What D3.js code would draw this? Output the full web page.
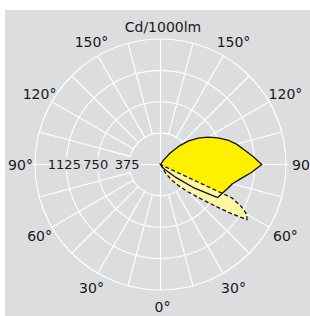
<!DOCTYPE html>
<html>
<head>
<meta charset="utf-8">
<script src="https://cdn.jsdelivr.net/npm/d3@7"></script>
<style>
  body { margin: 0; background: #fff; }
  text { font-family: "DejaVu Sans", sans-serif; fill: #1a1a1a; }
</style>
</head>
<body>
<svg id="chart"></svg>
<script>
// gamma = angle from nadir (0 = straight down, 90 = horizontal, 180 = up)
const gammaSolid = [30, 35, 40, 45, 50, 55, 60, 65, 70, 75, 80, 85, 90, 95, 100, 105, 110, 115, 120, 125, 130, 135, 140, 145, 150];
const cdSolid    = [0, 40, 75, 115, 245, 480, 790, 815, 850, 890, 975, 1090, 1210, 1110, 1015, 940, 855, 755, 655, 550, 440, 310, 175, 60, 0];

const gammaDashed = [25, 30, 35, 40, 45, 50, 52.5, 55, 57.5, 60, 62.5, 65, 67.5];
const cdDashed    = [0, 110, 215, 320, 460, 650, 800, 1010, 1225, 1190, 1090, 940, 0];

const ringValues = [375, 750, 1125, 1500];
const ringLabels = [375, 750, 1125];
const angleLabels = [0, 30, 60, 90, 120, 150];
const unitLabel = "Cd/1000lm";

const width = 310, height = 316;
const cx = 160.5, cy = 164.5;
const bg = "#dcdddf";

const svg = d3.select("#chart")
    .attr("width", width)
    .attr("height", height);

// grey panel
svg.append("rect")
    .attr("x", 5).attr("y", 10)
    .attr("width", width - 5).attr("height", height - 10)
    .attr("fill", bg);

const r = d3.scaleLinear().domain([0, 1500]).range([0, 125.5]);

// d3 radial angle: 0 at top, clockwise. gamma 0 is at the bottom.
const rad = g => (180 - g) * Math.PI / 180;

const g = svg.append("g").attr("transform", "translate(" + cx + "," + cy + ")");

// grid rings
g.selectAll("circle.ring")
    .data(ringValues)
    .enter().append("circle")
    .attr("class", "ring")
    .attr("r", d => r(d))
    .attr("fill", "none")
    .attr("stroke", "#fff")
    .attr("stroke-width", 1.2);

// spokes every 15 degrees; the main axes go through the centre
g.selectAll("line.spoke")
    .data(d3.range(0, 360, 15))
    .enter().append("line")
    .attr("class", "spoke")
    .each(function (a) {
        const t = a * Math.PI / 180;
        const r0 = a % 90 === 0 ? 0 : r(375);
        const r1 = a % 180 === 90 ? 128 : r(1500);
        d3.select(this)
            .attr("x1", r0 * Math.sin(t)).attr("y1", -r0 * Math.cos(t))
            .attr("x2", r1 * Math.sin(t)).attr("y2", -r1 * Math.cos(t));
    })
    .attr("stroke", "#fff")
    .attr("stroke-width", 1.2);

// intensity curves
const radial = d3.lineRadial()
    .angle(d => rad(d[0]))
    .radius(d => r(d[1]))
    .curve(d3.curveLinearClosed);

const solidPts = gammaSolid.map((d, i) => [d, cdSolid[i]]);
const dashedPts = gammaDashed.map((d, i) => [d, cdDashed[i]]);

g.append("path").attr("d", radial(solidPts)).attr("fill", "#fff000");
g.append("path").attr("d", radial(dashedPts)).attr("fill", "#fff6a3");

g.append("path").attr("d", radial(solidPts))
    .attr("fill", "none").attr("stroke", "#111").attr("stroke-width", 1.3)
    .attr("stroke-linejoin", "round");
g.append("path").attr("d", radial(dashedPts))
    .attr("fill", "none").attr("stroke", "#111").attr("stroke-width", 1.3)
    .attr("stroke-dasharray", "4,2.5");

// ring values on the left half of the horizontal axis
const x1125 = -r(1125), x375 = -r(375);
g.append("rect")
    .attr("x", x1125 - 15).attr("y", -7)
    .attr("width", (x375 + 12) - (x1125 - 15)).attr("height", 14)
    .attr("fill", bg);

g.selectAll("text.ring")
    .data(ringLabels)
    .enter().append("text")
    .attr("class", "ring")
    .attr("x", d => -r(d) - 2)
    .attr("y", 0)
    .attr("dy", "0.36em")
    .attr("text-anchor", "middle")
    .style("font-size", "13px")
    .text(d => d);

// angle labels on both sides
const labelR = 142;
const angleData = [];
angleLabels.forEach(a => {
    angleData.push({ a: a, side: 1 });
    if (a !== 0) angleData.push({ a: a, side: -1 });
});

g.selectAll("text.angle")
    .data(angleData)
    .enter().append("text")
    .attr("class", "angle")
    .attr("x", d => d.side * labelR * Math.sin(d.a * Math.PI / 180) + 2)
    .attr("y", d => labelR * Math.cos(d.a * Math.PI / 180))
    .attr("dy", "0.36em")
    .attr("text-anchor", "middle")
    .style("font-size", "14px")
    .text(d => d.a + "°");

svg.append("text")
    .attr("x", 163)
    .attr("y", 32)
    .attr("text-anchor", "middle")
    .style("font-size", "14px")
    .text(unitLabel);
</script>
</body>
</html>
